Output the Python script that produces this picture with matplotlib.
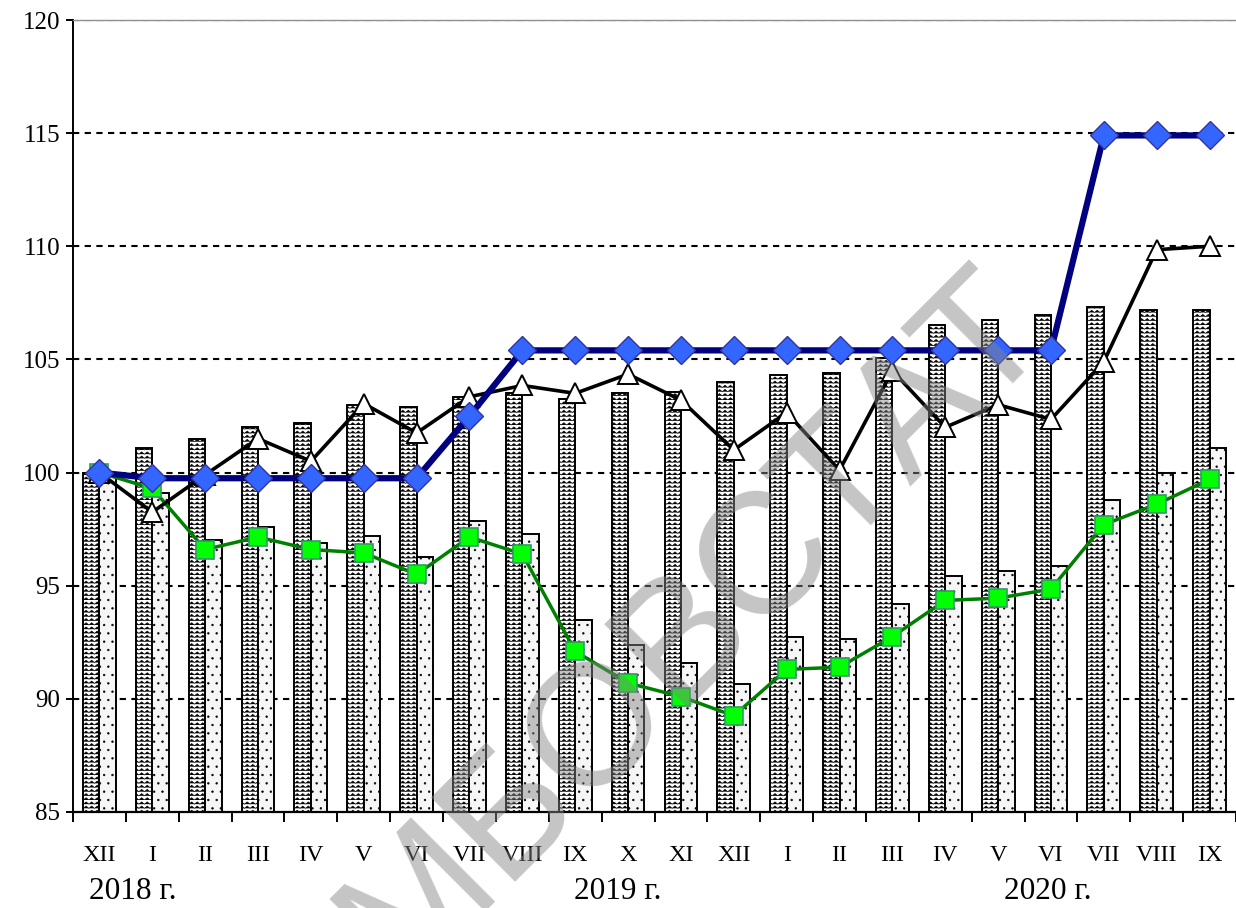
import warnings
warnings.filterwarnings('ignore')
import numpy as np
import matplotlib
matplotlib.use('Agg')
import matplotlib.pyplot as plt
import matplotlib.hatch as mhatch
from matplotlib.path import Path

# ---------------- data ----------------
months = ['XII', 'I', 'II', 'III', 'IV', 'V', 'VI', 'VII', 'VIII', 'IX', 'X', 'XI',
          'XII', 'I', 'II', 'III', 'IV', 'V', 'VI', 'VII', 'VIII', 'IX']
bars_wavy = [100.0, 101.1, 101.5, 102.0, 102.2, 103.0, 102.9, 103.35, 103.5, 103.25, 103.5,
             103.55, 104.0, 104.3, 104.4, 105.05, 106.5, 106.75, 106.95, 107.3, 107.2, 107.2]
bars_dotted = [99.9, 99.1, 97.0, 97.6, 96.9, 97.2, 96.25, 97.85, 97.3, 93.5, 92.4,
               91.6, 90.65, 92.75, 92.65, 94.2, 95.45, 95.65, 95.85, 98.8, 100.0, 101.1]
line_green = [100.0, 99.3, 96.6, 97.15, 96.6, 96.45, 95.5, 97.15, 96.4, 92.1, 90.7,
              90.1, 89.25, 91.3, 91.4, 92.75, 94.35, 94.45, 94.85, 97.7, 98.6, 99.7]
line_black = [100.0, 98.25, 99.9, 101.5, 100.5, 103.05, 101.75, 103.35, 103.85, 103.5, 104.35,
              103.2, 101.0, 102.65, 100.1, 104.5, 102.0, 103.0, 102.35, 104.9, 109.85, 110.0]
line_blue = [100.0, 99.75, 99.75, 99.75, 99.75, 99.75, 99.75, 102.5, 105.4, 105.4, 105.4,
             105.4, 105.4, 105.4, 105.4, 105.4, 105.4, 105.4, 105.4, 114.9, 114.9, 114.9]
years = ['2018 г.', '2019 г.', '2020 г.']
year_pos = [0.63, 9.8, 17.93]
y_ticks = [85, 90, 95, 100, 105, 110, 115, 120]
watermark = 'ТАМБОВСТАТ'


# ---------------- custom wavy hatch ----------------
class ZigZagHatch(mhatch.HatchPatternBase):
    def __init__(self, hatch, density):
        self.num_rows = int(hatch.count('z') * density)
        self.teeth = int(round(self.num_rows * 0.75))
        self.per_row = 2 * self.teeth + 1
        self.num_vertices = self.num_rows * self.per_row if self.num_rows else 0

    def set_vertices_and_codes(self, vertices, codes):
        step = 1.0 / self.num_rows
        amp = step * 0.55
        xs = np.linspace(0.0, 1.0, self.per_row)
        for r in range(self.num_rows):
            y0 = r * step
            ys = np.where(np.arange(self.per_row) % 2 == 0, y0, y0 + amp)
            sl = slice(r * self.per_row, (r + 1) * self.per_row)
            vertices[sl, 0] = xs
            vertices[sl, 1] = ys
            codes[sl] = Path.LINETO
            codes[r * self.per_row] = Path.MOVETO


mhatch._hatch_types.append(ZigZagHatch)

plt.rcParams['font.family'] = ['Liberation Serif', 'DejaVu Serif']
plt.rcParams['hatch.linewidth'] = 0.45

fig = plt.figure(figsize=(12.36, 9.08), dpi=100)
ax = fig.add_axes([73 / 1236, 1 - 812 / 908, (1236 - 73) / 1236, (812 - 20) / 908])

x = np.arange(len(months))
bw = 0.31
ax.bar(x - bw / 2, bars_wavy, width=bw, facecolor='white', edgecolor='black',
       hatch='zzzz', linewidth=1.4, zorder=2)
ax.bar(x + bw / 2, bars_dotted, width=bw, facecolor='#f6f6f6', edgecolor='black',
       hatch='..', linewidth=1.4, zorder=2)

ax.plot(x, line_green, color='#008000', lw=2.5, marker='s', ms=13,
        markerfacecolor='#00ff00', markeredgecolor='#339966', markeredgewidth=1.2, zorder=4)
ax.plot(x, line_black, color='black', lw=2.6, marker='^', ms=14,
        markerfacecolor='white', markeredgecolor='black', markeredgewidth=1.4, zorder=5)
ax.plot(x, line_blue, color='#000080', lw=4.5, marker='D', ms=14,
        markerfacecolor='#3366ff', markeredgecolor='#333399', markeredgewidth=1.0, zorder=6)

ax.set_xlim(-0.5, len(months) - 0.5)
ax.set_ylim(85, 120)
ax.set_yticks(y_ticks)
ax.set_yticklabels([str(v) for v in y_ticks], fontsize=18)
for v in y_ticks[1:]:
    ax.axhline(v, color='black', lw=1.5, ls=(0, (3, 2.6)), zorder=1)

ax.set_xticks(x)
ax.set_xticklabels(months, fontsize=17.5)
ax.set_xticks(np.arange(-0.5, len(months), 1.0), minor=True)
ax.tick_params(axis='x', which='major', length=0, pad=24)
ax.tick_params(axis='x', which='minor', length=7, width=1.4, direction='out')
ax.tick_params(axis='y', which='major', length=5, width=1.4, direction='out', pad=4)

ax.spines['right'].set_visible(False)
ax.spines['top'].set_color('#909090')
ax.spines['top'].set_linewidth(1.0)
ax.spines['left'].set_linewidth(1.4)
ax.spines['bottom'].set_linewidth(1.6)

trans = ax.get_xaxis_transform()
for lab, p in zip(years, year_pos):
    ax.text(p, -0.1, lab, transform=trans, ha='center', va='center', fontsize=22.5)

fig.text(622 / 1236, 1 - 708 / 908, watermark, rotation=45, ha='center', va='center',
         fontsize=124, family='Liberation Sans', color='#858585', alpha=0.48, zorder=10)

fig.savefig('out.png', dpi=100)
